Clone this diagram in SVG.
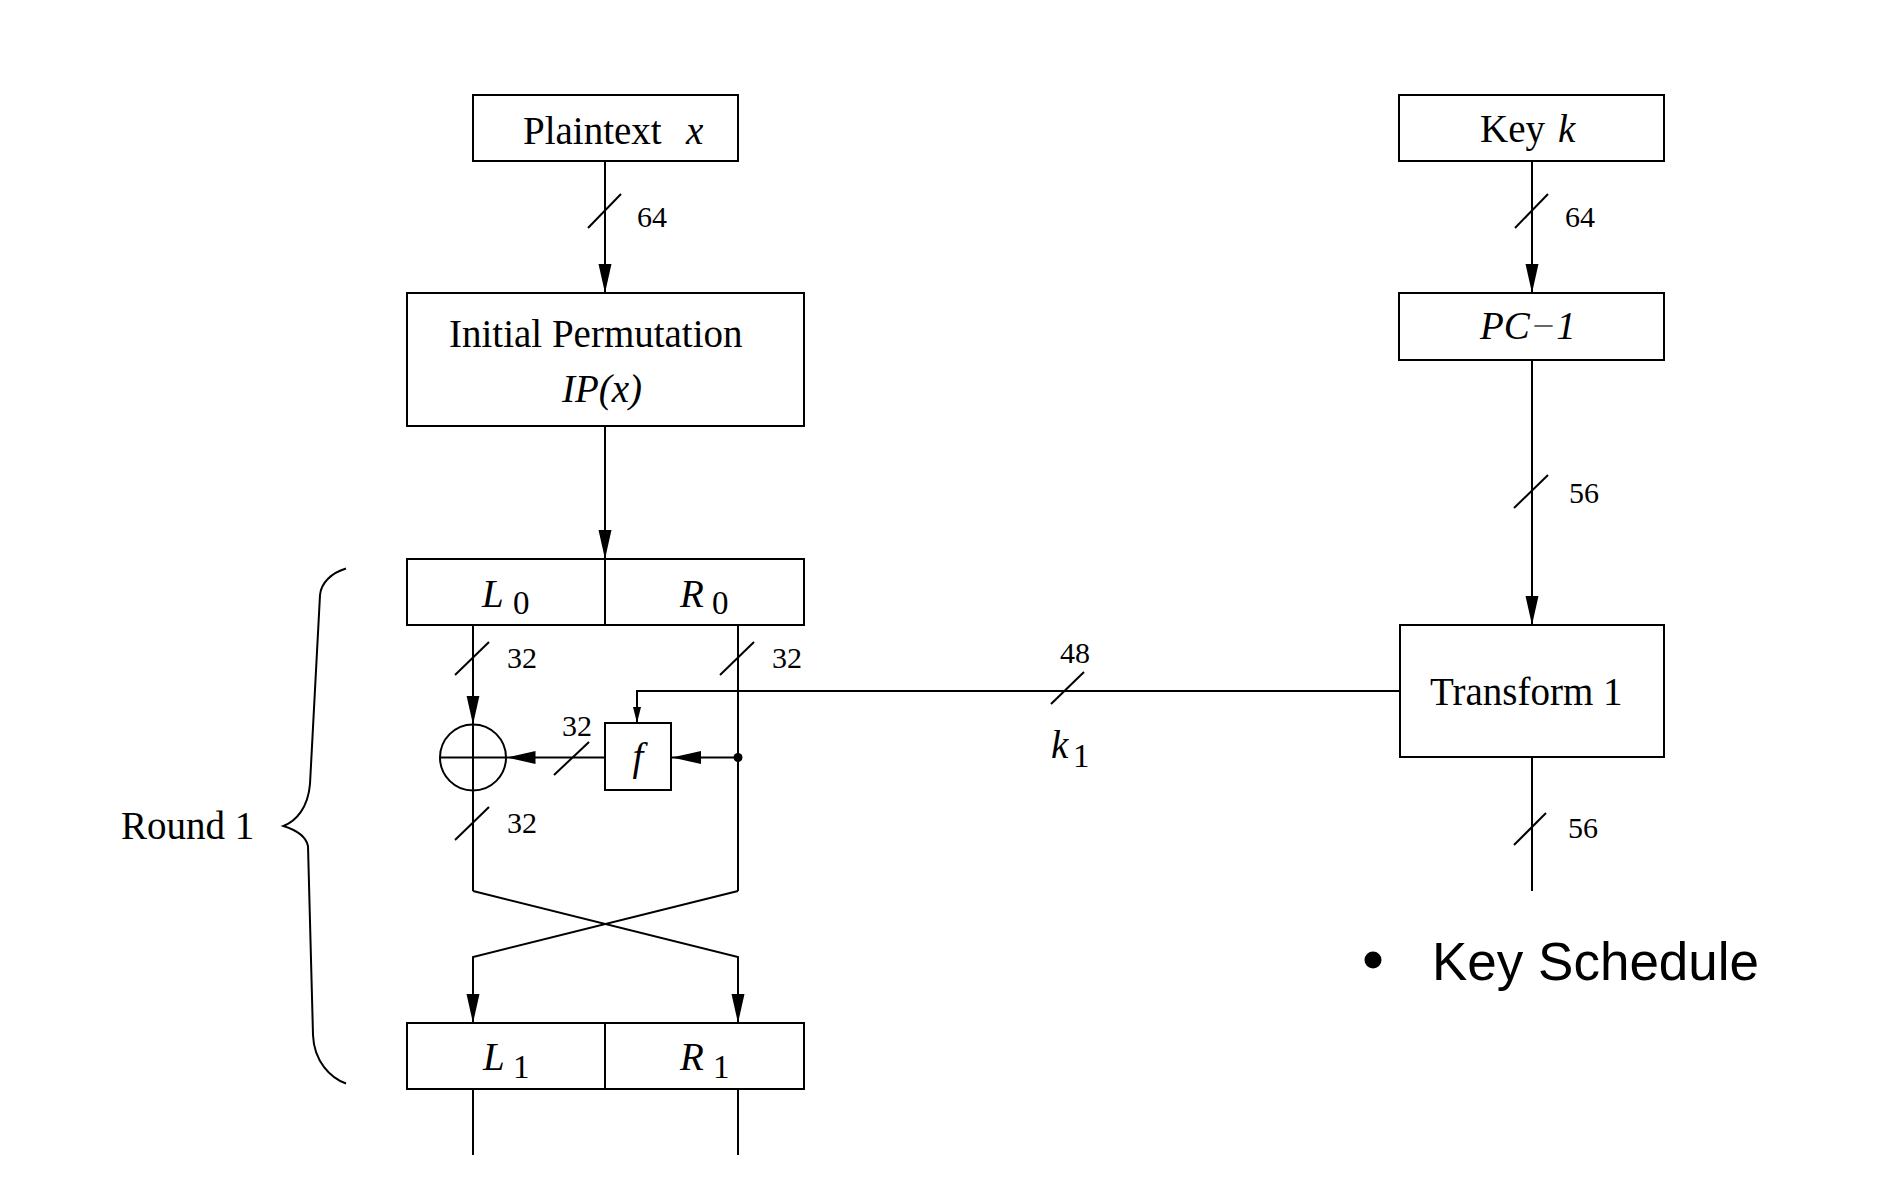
<svg xmlns="http://www.w3.org/2000/svg" width="1892" height="1194" viewBox="0 0 1892 1194">
<style>
.box{fill:#fff;stroke:#000;stroke-width:2}
.ln{fill:none;stroke:#000;stroke-width:2}
.t{font-family:"Liberation Serif","Times New Roman",serif;font-size:39px;fill:#000}
.i{font-style:italic}
.n{font-family:"Liberation Serif","Times New Roman",serif;font-size:30px;fill:#000}
.s{font-family:"Liberation Serif","Times New Roman",serif;font-size:33px;fill:#000}
.ks{font-family:"Liberation Sans",Arial,sans-serif;font-size:53px;fill:#000}
</style>
<defs>
<marker id="ah" markerUnits="userSpaceOnUse" markerWidth="30" markerHeight="14" refX="29" refY="6.5" orient="auto"><path d="M0,0 L29,6.5 L0,13 z" fill="#000"/></marker>
<marker id="ahs" markerUnits="userSpaceOnUse" markerWidth="17" markerHeight="9" refX="16" refY="4" orient="auto"><path d="M0,0 L16,4 L0,8 z" fill="#000"/></marker>
</defs>
<rect width="1892" height="1194" fill="#fff"/>

<g id="connectors">
<line class="ln" x1="605" y1="161" x2="605" y2="293" marker-end="url(#ah)"/>
<line class="ln" x1="605" y1="426" x2="605" y2="559" marker-end="url(#ah)"/>
<line class="ln" x1="1532" y1="161" x2="1532" y2="293" marker-end="url(#ah)"/>
<line class="ln" x1="1532" y1="360" x2="1532" y2="625" marker-end="url(#ah)"/>
<line class="ln" x1="1532" y1="757" x2="1532" y2="891"/>
<polyline class="ln" points="1400,691 637,691 637,723" marker-end="url(#ahs)"/>
<line class="ln" x1="473" y1="625" x2="473" y2="724.5" marker-end="url(#ah)"/>
<line class="ln" x1="738" y1="625" x2="738" y2="891"/>
<line class="ln" x1="738" y1="757.5" x2="672" y2="757.5" marker-end="url(#ah)"/>
<line class="ln" x1="605" y1="757.5" x2="506.5" y2="757.5" marker-end="url(#ah)"/>
<circle cx="738" cy="757.5" r="4.5" fill="#000"/>
<line class="ln" x1="473" y1="791" x2="473" y2="891"/>
<polyline class="ln" points="473,891 738,957 738,1023" marker-end="url(#ah)"/>
<polyline class="ln" points="738,891 473,957 473,1023" marker-end="url(#ah)"/>
<line class="ln" x1="473" y1="1089" x2="473" y2="1155"/>
<line class="ln" x1="738" y1="1089" x2="738" y2="1155"/>
<!-- bus slashes -->
<line class="ln" x1="588" y1="228" x2="621" y2="194"/>
<line class="ln" x1="1515" y1="228" x2="1548" y2="194"/>
<line class="ln" x1="1514" y1="508" x2="1548" y2="475"/>
<line class="ln" x1="1514" y1="845" x2="1546" y2="813"/>
<line class="ln" x1="1051" y1="704" x2="1084" y2="672"/>
<line class="ln" x1="455" y1="675" x2="489" y2="642"/>
<line class="ln" x1="720" y1="675" x2="754" y2="642"/>
<line class="ln" x1="554" y1="775" x2="589" y2="742"/>
<line class="ln" x1="455" y1="840" x2="489" y2="807"/>
<text class="n" x="637" y="227">64</text>
<text class="n" x="1565" y="227">64</text>
<text class="n" x="1569" y="503">56</text>
<text class="n" x="1568" y="838">56</text>
<text class="n" x="1060" y="663">48</text>
<text class="n" x="507" y="668">32</text>
<text class="n" x="772" y="668">32</text>
<text class="n" x="562" y="736">32</text>
<text class="n" x="507" y="833">32</text>
<text class="t i" x="1051" y="758">k</text>
<text class="s" x="1073" y="767">1</text>
</g>

<g id="plaintext">
<rect class="box" x="473" y="95" width="265" height="66"/>
<text class="t" x="523" y="144">Plaintext</text>
<text class="t i" x="686" y="144">x</text>
</g>

<g id="ip">
<rect class="box" x="407" y="293" width="397" height="133"/>
<text class="t" x="449" y="347">Initial Permutation</text>
<text class="t i" x="562" y="402">IP(x)</text>
</g>

<g id="l0r0">
<rect class="box" x="407" y="559" width="397" height="66"/>
<line class="ln" x1="605" y1="559" x2="605" y2="625"/>
<text class="t i" x="482" y="607">L</text>
<text class="s" x="513" y="614">0</text>
<text class="t i" x="680" y="607">R</text>
<text class="s" x="712" y="614">0</text>
</g>

<g id="xor">
<circle class="ln" cx="473" cy="757.5" r="33"/>
<line class="ln" x1="440" y1="757.5" x2="506" y2="757.5"/>
<line class="ln" x1="473" y1="724.5" x2="473" y2="790.5"/>
</g>

<g id="f">
<rect class="box" x="605" y="723" width="66" height="67"/>
<text class="t i" x="638" y="770" text-anchor="middle">f</text>
</g>

<g id="l1r1">
<rect class="box" x="407" y="1023" width="397" height="66"/>
<line class="ln" x1="605" y1="1023" x2="605" y2="1089"/>
<text class="t i" x="483" y="1070">L</text>
<text class="s" x="513" y="1078">1</text>
<text class="t i" x="680" y="1070">R</text>
<text class="s" x="713" y="1078">1</text>
</g>

<g id="key">
<rect class="box" x="1399" y="95" width="265" height="66"/>
<text class="t" x="1480" y="142">Key</text>
<text class="t i" x="1558" y="142">k</text>
</g>

<g id="pc1">
<rect class="box" x="1399" y="293" width="265" height="67"/>
<text class="t i" x="1480" y="339">PC<tspan fill="#666">−</tspan>1</text>
</g>

<g id="transform1">
<rect class="box" x="1400" y="625" width="264" height="132"/>
<text class="t" x="1430" y="705">Transform 1</text>
</g>

<g id="round1">
<path class="ln" d="M346,568.5 C331,573 321,583 320,595 L310,784 C308,808 296,821 283.5,826 C296,830 306,836 308,846 L313,1035 C314,1062 331,1078 346,1083.5"/>
<text class="t" x="121" y="839">Round 1</text>
</g>

<g id="keyschedule">
<circle cx="1373" cy="960" r="8.5" fill="#000"/>
<text class="ks" x="1432" y="980">Key Schedule</text>
</g>
</svg>
